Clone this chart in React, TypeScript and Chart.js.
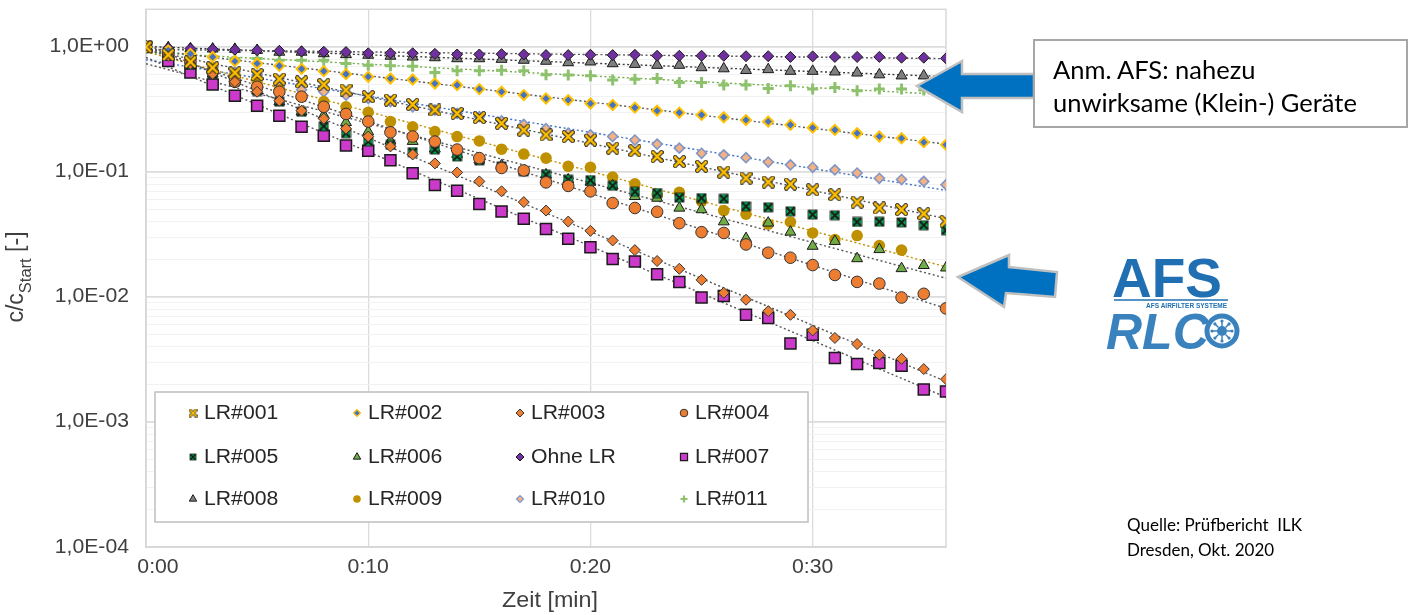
import React, { useEffect, useRef } from 'react';
import { Chart, registerables } from 'chart.js';
import { drawPoint } from 'chart.js/helpers';

Chart.register(...registerables);

// ---------- data ----------
const minutes = [0, 1, 2, 3, 4, 5, 6, 7, 8, 9, 10, 11, 12, 13, 14, 15, 16, 17, 18, 19, 20, 21, 22, 23, 24, 25, 26, 27, 28, 29, 30, 31, 32, 33, 34, 35, 36];

const lr001 = [1.0, 0.864, 0.759, 0.68, 0.621, 0.601, 0.553, 0.526, 0.5, 0.452, 0.4, 0.376, 0.347, 0.313, 0.294, 0.272, 0.245, 0.216, 0.198, 0.192, 0.18, 0.155, 0.148, 0.133, 0.121, 0.111, 0.0996, 0.0893, 0.083, 0.08, 0.072, 0.0658, 0.0574, 0.0515, 0.05, 0.0464, 0.0403];
const lr002 = [1.0, 0.938, 0.88, 0.832, 0.769, 0.736, 0.706, 0.668, 0.64, 0.606, 0.577, 0.559, 0.549, 0.51, 0.495, 0.46, 0.438, 0.412, 0.387, 0.376, 0.353, 0.343, 0.327, 0.309, 0.298, 0.286, 0.274, 0.26, 0.253, 0.238, 0.226, 0.217, 0.204, 0.192, 0.186, 0.173, 0.165];
const lr003 = [1.0, 0.848, 0.732, 0.609, 0.526, 0.438, 0.371, 0.309, 0.267, 0.222, 0.192, 0.16, 0.138, 0.117, 0.099, 0.084, 0.07, 0.0574, 0.0491, 0.0401, 0.0338, 0.0283, 0.0237, 0.0194, 0.0168, 0.0137, 0.0108, 0.0095, 0.0077, 0.0072, 0.0054, 0.0047, 0.0042, 0.00345, 0.0032, 0.00265, 0.0022];
const lr004 = [1.0, 0.88, 0.759, 0.632, 0.526, 0.48, 0.438, 0.4, 0.332, 0.291, 0.253, 0.2075, 0.192, 0.175, 0.151, 0.129, 0.1076, 0.1028, 0.0825, 0.0773, 0.07, 0.0564, 0.0515, 0.048, 0.0389, 0.033, 0.0325, 0.0263, 0.0226, 0.0206, 0.018, 0.015, 0.0132, 0.0128, 0.0099, 0.0106, 0.0081];
const lr005 = [1.0, 0.848, 0.719, 0.609, 0.526, 0.444, 0.365, 0.303, 0.2325, 0.204, 0.175, 0.165, 0.144, 0.151, 0.133, 0.1235, 0.1106, 0.1009, 0.095, 0.0867, 0.086, 0.0776, 0.0695, 0.0678, 0.0623, 0.0618, 0.061, 0.0531, 0.0521, 0.0484, 0.0456, 0.045, 0.0398, 0.04, 0.0395, 0.0375, 0.0342];
const lr006 = [1.0, 0.832, 0.706, 0.609, 0.526, 0.446, 0.365, 0.303, 0.2855, 0.249, 0.21, 0.1773, 0.176, 0.153, 0.1386, 0.125, 0.1127, 0.1019, 0.095, 0.0867, 0.083, 0.0778, 0.0638, 0.0618, 0.0515, 0.05, 0.04, 0.0294, 0.0391, 0.0331, 0.0255, 0.0279, 0.0203, 0.024, 0.0169, 0.0179, 0.0171];
const ohneLR = [1.0, 0.98, 0.97, 0.96, 0.95, 0.94, 0.93, 0.92, 0.915, 0.91, 0.89, 0.89, 0.89, 0.88, 0.87, 0.87, 0.875, 0.87, 0.86, 0.86, 0.865, 0.86, 0.865, 0.85, 0.85, 0.85, 0.85, 0.843, 0.843, 0.832, 0.84, 0.832, 0.832, 0.832, 0.82, 0.82, 0.81];
const lr007 = [1.0, 0.773, 0.624, 0.5, 0.407, 0.339, 0.282, 0.23, 0.195, 0.163, 0.148, 0.124, 0.0978, 0.0785, 0.0708, 0.0554, 0.0482, 0.0422, 0.035, 0.0292, 0.025, 0.0201, 0.0192, 0.0152, 0.0132, 0.0099, 0.0102, 0.0072, 0.0068, 0.00425, 0.00498, 0.00325, 0.00291, 0.00296, 0.00282, 0.00182, 0.00175];
const lr008 = [1.0, 0.99, 0.97, 0.965, 0.96, 0.94, 0.91, 0.91, 0.885, 0.87, 0.86, 0.845, 0.832, 0.822, 0.807, 0.807, 0.798, 0.784, 0.77, 0.75, 0.76, 0.736, 0.727, 0.715, 0.715, 0.684, 0.67, 0.65, 0.66, 0.64, 0.64, 0.632, 0.62, 0.6, 0.588, 0.588, 0.575];
const lr009 = [1.0, 0.896, 0.788, 0.68, 0.598, 0.526, 0.454, 0.4, 0.365, 0.332, 0.3, 0.253, 0.23, 0.21, 0.192, 0.177, 0.152, 0.139, 0.129, 0.111, 0.109, 0.091, 0.0805, 0.0658, 0.0687, 0.0582, 0.0491, 0.0459, 0.0382, 0.0398, 0.0325, 0.0288, 0.031, 0.0258, 0.0237];
const lr010 = [1.0, 0.864, 0.736, 0.693, 0.632, 0.595, 0.48, 0.454, 0.438, 0.412, 0.3875, 0.365, 0.332, 0.313, 0.294, 0.277, 0.256, 0.24, 0.222, 0.204, 0.198, 0.192, 0.18, 0.167, 0.155, 0.141, 0.137, 0.13, 0.12, 0.114, 0.109, 0.104, 0.098, 0.089, 0.087, 0.084, 0.079];
const lr011 = [1.0, 0.91, 0.91, 0.832, 0.807, 0.807, 0.784, 0.784, 0.784, 0.737, 0.715, 0.706, 0.7, 0.624, 0.644, 0.644, 0.652, 0.644, 0.6, 0.595, 0.588, 0.543, 0.552, 0.56, 0.52, 0.52, 0.495, 0.495, 0.466, 0.489, 0.46, 0.474, 0.446, 0.46, 0.46, 0.453, 0.44];

const seriesNames = ['LR#001', 'LR#002', 'LR#003', 'LR#004', 'LR#005', 'LR#006', 'Ohne LR', 'LR#007', 'LR#008', 'LR#009', 'LR#010', 'LR#011'];
const seriesValues = [lr001, lr002, lr003, lr004, lr005, lr006, ohneLR, lr007, lr008, lr009, lr010, lr011];
const seriesHasTrend = [true, true, true, true, false, true, true, true, true, true, true, true];

const xTickValues = [0, 10, 20, 30];
const xTickLabels = ['0:00', '0:10', '0:20', '0:30'];
const yTickValues = [1e-4, 1e-3, 1e-2, 1e-1, 1];
const yTickLabels = ['1,0E-04', '1,0E-03', '1,0E-02', '1,0E-01', '1,0E+00'];
const xTitle = 'Zeit [min]';
const yTitleMain = 'c/c';
const yTitleSub = 'Start';
const yTitleTail = ' [-]';

// ---------- styles ----------
type MS = { style: string; r: number; bg: string; bd: string; bw: number; trend: string; lr: number };
const markerStyles: MS[] = [
  { style: 'xgold', r: 6.5, bg: '#FFC000', bd: '#262626', bw: 1, trend: '#595959', lr: 4 },
  { style: 'rectRot', r: 5, bg: '#4472C4', bd: '#FFC000', bw: 2, trend: '#595959', lr: 3.5 },
  { style: 'rectRot', r: 5.5, bg: '#ED7D31', bd: '#333333', bw: 1, trend: '#595959', lr: 4 },
  { style: 'circle', r: 5.8, bg: '#ED7D31', bd: '#333333', bw: 1, trend: '#595959', lr: 3.8 },
  { style: 'bowtie', r: 5.5, bg: '#00B050', bd: '#1A1A1A', bw: 1, trend: '#595959', lr: 4 },
  { style: 'triangle', r: 6.3, bg: '#70AD47', bd: '#1A1A1A', bw: 1, trend: '#595959', lr: 4.3 },
  { style: 'rectRot', r: 5.5, bg: '#7030A0', bd: '#1A1A1A', bw: 1, trend: '#595959', lr: 4 },
  { style: 'rect', r: 7.8, bg: '#CC3ACC', bd: '#1A1A1A', bw: 1.5, trend: '#595959', lr: 5 },
  { style: 'triangle', r: 6.3, bg: '#7F7F7F', bd: '#1A1A1A', bw: 1, trend: '#3A3A3A', lr: 4.3 },
  { style: 'circle', r: 5.8, bg: '#BF9000', bd: '#BF9000', bw: 0, trend: '#BF9000', lr: 3.8 },
  { style: 'rectRot', r: 5, bg: '#F4B183', bd: '#7F96C8', bw: 1.6, trend: '#4472C4', lr: 3.5 },
  { style: 'cross', r: 5.5, bg: '#8DC16C', bd: '#8DC16C', bw: 3, trend: '#70AD47', lr: 3.5 },
];

const LABEL_FONT = '"Liberation Sans", Arial, sans-serif';
const STRETCH = 1.06;

function makeXMarker(size: number) {
  const c = document.createElement('canvas');
  c.width = size; c.height = size;
  const g = c.getContext('2d')!;
  const p = size * 0.18, q = size - p;
  const line = (w: number, col: string) => {
    g.strokeStyle = col; g.lineWidth = w; g.lineCap = 'square';
    g.beginPath(); g.moveTo(p, p); g.lineTo(q, q); g.moveTo(q, p); g.lineTo(p, q); g.stroke();
  };
  line(size * 0.34, '#262626');
  line(size * 0.2, '#FFC000');
  return c;
}

function makeBowtie(size: number) {
  const c = document.createElement('canvas');
  c.width = size; c.height = size;
  const g = c.getContext('2d')!;
  g.fillStyle = '#00B050';
  g.fillRect(1, 1, size - 2, size - 2);
  g.strokeStyle = '#1A1A1A';
  g.lineWidth = size * 0.18;
  g.beginPath(); g.moveTo(1.5, 1.5); g.lineTo(size - 1.5, size - 1.5); g.moveTo(size - 1.5, 1.5); g.lineTo(1.5, size - 1.5); g.stroke();
  g.lineWidth = 0.8;
  g.strokeRect(1, 1, size - 2, size - 2);
  return c;
}

function expFit(xs: number[], ys: number[]) {
  let n = 0, sx = 0, sy = 0, sxx = 0, sxy = 0;
  for (let i = 0; i < ys.length; i++) {
    const x = xs[i], y = Math.log(ys[i]);
    n++; sx += x; sy += y; sxx += x * x; sxy += x * y;
  }
  const b = (n * sxy - sx * sy) / (n * sxx - sx * sx);
  const a = (sy - b * sx) / n;
  return { a, b };
}

function isDecade(v: number) {
  const l = Math.log10(v);
  return Math.abs(l - Math.round(l)) < 1e-6;
}

function stretchedText(ctx: CanvasRenderingContext2D, text: string, x: number, y: number, font: string, align: CanvasTextAlign, color: string) {
  ctx.save();
  ctx.translate(x, y);
  ctx.scale(STRETCH, 1);
  ctx.font = font;
  ctx.fillStyle = color;
  ctx.textAlign = align;
  ctx.textBaseline = 'middle';
  ctx.fillText(text, 0, 0);
  ctx.restore();
}

export default function App() {
  const ref = useRef<HTMLCanvasElement>(null);

  useEffect(() => {
    const canvas = ref.current;
    if (!canvas) return;

    const bigX = makeXMarker(13);
    const smallX = makeXMarker(9);
    const bigBow = makeBowtie(11);
    const smallBow = makeBowtie(8);
    const resolveStyle = (s: string, small: boolean): any => {
      if (s === 'xgold') return small ? smallX : bigX;
      if (s === 'bowtie') return small ? smallBow : bigBow;
      return s;
    };

    const markerSets: any[] = [];
    const trendSets: any[] = [];
    seriesValues.forEach((vals, i) => {
      const st = markerStyles[i];
      const xs = minutes.slice(0, vals.length);
      const pts = vals.map((v, k) => ({ x: minutes[k], y: v }));
      markerSets.push({
        type: 'scatter',
        label: seriesNames[i],
        data: pts,
        showLine: false,
        pointStyle: resolveStyle(st.style, false),
        pointRadius: st.r,
        pointHoverRadius: st.r,
        pointBackgroundColor: st.bg,
        pointBorderColor: st.bd,
        pointBorderWidth: st.bw,
        order: i,
      });
      if (seriesHasTrend[i]) {
        const { a, b } = expFit(xs, vals);
        const tEnd = minutes[minutes.length - 1];
        trendSets.push({
          type: 'line',
          label: seriesNames[i] + ' trend',
          data: [{ x: minutes[0], y: Math.exp(a) }, { x: tEnd, y: Math.exp(a + b * tEnd) }],
          borderColor: st.trend,
          borderWidth: 1.4,
          borderDash: [2, 2.5],
          pointRadius: 0,
          fill: false,
          tension: 0,
          order: 20 + i,
        });
      }
    });

    const decor = {
      id: 'decor',
      beforeDatasetsDraw(chart: any) {
        const { ctx, chartArea: a } = chart;
        ctx.save();
        ctx.strokeStyle = '#D9D9D9';
        ctx.lineWidth = 1.5;
        ctx.strokeRect(a.left, a.top, a.right - a.left, a.bottom - a.top);
        ctx.restore();
      },
      afterDraw(chart: any) {
        const { ctx, chartArea: a } = chart;
        const xs = chart.scales.x, ys = chart.scales.y;
        const tickFont = `20px ${LABEL_FONT}`;
        const tickColor = '#404040';
        yTickValues.forEach((v, i) => {
          stretchedText(ctx, yTickLabels[i], a.left - 17, ys.getPixelForValue(v), tickFont, 'right', tickColor);
        });
        xTickValues.forEach((v, i) => {
          let px = xs.getPixelForValue(v);
          if (i === 0) px = Math.max(px, a.left + 12);
          stretchedText(ctx, xTickLabels[i], px, 567, tickFont, 'center', tickColor);
        });
        stretchedText(ctx, xTitle, (a.left + a.right) / 2 + 4, 601, `22px ${LABEL_FONT}`, 'center', tickColor);

        // y title with subscript
        ctx.save();
        ctx.translate(23, 277);
        ctx.rotate(-Math.PI / 2);
        const f1 = `23px ${LABEL_FONT}`, f2 = `16.5px ${LABEL_FONT}`;
        ctx.font = f1; const w1 = ctx.measureText(yTitleMain).width; const w3 = ctx.measureText(yTitleTail).width;
        ctx.font = f2; const w2 = ctx.measureText(yTitleSub).width;
        const x0 = -(w1 + w2 + w3) / 2;
        ctx.fillStyle = tickColor;
        ctx.textBaseline = 'alphabetic';
        ctx.textAlign = 'left';
        ctx.font = f1; ctx.fillText(yTitleMain, x0, 0);
        ctx.font = f2; ctx.fillText(yTitleSub, x0 + w1, 8);
        ctx.font = f1; ctx.fillText(yTitleTail, x0 + w1 + w2, 0);
        ctx.restore();

        // legend
        ctx.save();
        ctx.fillStyle = '#FFFFFF';
        ctx.strokeStyle = '#BFBFBF';
        ctx.lineWidth = 1.5;
        ctx.fillRect(155, 392, 653, 130);
        ctx.strokeRect(155, 392, 653, 130);
        ctx.restore();
        const colX = [193, 357, 520, 684];
        const rowY = [413, 457, 499];
        seriesNames.forEach((name, i) => {
          const st = markerStyles[i];
          const cx = colX[i % 4], cy = rowY[Math.floor(i / 4)];
          const lw = st.style === 'cross' ? 2.2 : Math.min(st.bw, 1.2);
          ctx.save();
          ctx.fillStyle = st.bg;
          ctx.strokeStyle = st.bd;
          ctx.lineWidth = lw;
          drawPoint(ctx, { pointStyle: resolveStyle(st.style, true), radius: st.lr, rotation: 0, borderWidth: lw } as any, cx, cy);
          ctx.restore();
          stretchedText(ctx, name, cx + 11, cy, `20px ${LABEL_FONT}`, 'left', '#262626');
        });
      },
    };

    const chart = new Chart(canvas, {
      type: 'scatter',
      data: { datasets: [...markerSets, ...trendSets] },
      options: {
        animation: false,
        responsive: false,
        maintainAspectRatio: false,
        layout: { padding: { top: 8, right: 1413 - 946, left: 0, bottom: 0 } },
        plugins: { legend: { display: false }, tooltip: { enabled: false } },
        scales: {
          x: {
            type: 'linear',
            min: 0,
            max: 36,
            afterBuildTicks: (s: any) => { s.ticks = xTickValues.map((v) => ({ value: v })); },
            afterFit: (s: any) => { s.height = 68; },
            ticks: { display: false },
            grid: { color: '#DCDCDC', lineWidth: 1.3, drawTicks: false },
            border: { color: '#D0D0D0', width: 1.5 },
          },
          y: {
            type: 'logarithmic',
            min: 1e-4,
            max: 2,
            afterBuildTicks: (s: any) => {
              const t: any[] = [];
              for (let e = -4; e <= 0; e++) {
                for (let k = 1; k <= 9; k++) {
                  const v = k * Math.pow(10, e);
                  if (v <= 2.0001) t.push({ value: v });
                }
              }
              s.ticks = t;
            },
            afterFit: (s: any) => { s.width = 146; },
            ticks: { display: false },
            grid: {
              color: (c: any) => (c.tick && isDecade(c.tick.value) ? '#DCDCDC' : '#F2F2F2'),
              lineWidth: (c: any) => (c.tick && isDecade(c.tick.value) ? 1.8 : 1),
              drawTicks: false,
            },
            border: { color: '#D0D0D0', width: 1.5 },
          },
        },
      } as any,
      plugins: [decor as any],
    });
    return () => chart.destroy();
  }, []);

  const blue = '#0070C0';
  const logoBlue = '#1F6FB2';
  const logoBlue2 = '#3A82BE';
  const spikes = [0, 45, 90, 135, 180, 225, 270, 315];

  return (
    <div style={{ position: 'absolute', left: 0, top: 0, width: 1413, height: 615, background: '#FFFFFF', overflow: 'hidden' }}>
      <canvas ref={ref} width={1413} height={615} style={{ position: 'absolute', left: 0, top: 0 }} />
      <svg width={1413} height={615} style={{ position: 'absolute', left: 0, top: 0, pointerEvents: 'none' }}>
        <polygon points="917,86 962,61 962,74 1034,74 1034,98 962,98 962,112" fill={blue} stroke="#BFBFBF" strokeWidth={2.5} strokeLinejoin="miter" />
        <polygon points="958,277 1009,255 1009,267 1057,272 1055,297 1006,293 1004,307" fill={blue} stroke="#BFBFBF" strokeWidth={2.5} />
        <rect x={1034} y={40} width={373} height={87} fill="#FFFFFF" stroke="#A6A6A6" strokeWidth={2} />
        <text x={1053} y={79} fontFamily="Lato, 'Open Sans', sans-serif" fontSize={25.5} fill="#000000">Anm. AFS: nahezu</text>
        <text x={1053} y={112} fontFamily="Lato, 'Open Sans', sans-serif" fontSize={25.5} fill="#000000">unwirksame (Klein-) Geräte</text>

        <text x={1112} y={297} fontFamily="'Liberation Sans', Arial, sans-serif" fontWeight="bold" fontSize={55} fill={logoBlue}>AFS</text>
        <line x1={1114} y1={300} x2={1228} y2={300} stroke={logoBlue} strokeWidth={1.5} />
        <text x={1227} y={307.5} textAnchor="end" fontFamily="'Liberation Sans', Arial, sans-serif" fontWeight="bold" fontSize={6.5} fill={logoBlue}>AFS AIRFILTER SYSTEME</text>
        <text x={1106} y={349} fontFamily="'Liberation Sans', Arial, sans-serif" fontWeight="bold" fontStyle="italic" fontSize={50} fill={logoBlue2}>RLC</text>
        <circle cx={1222} cy={331} r={15} fill="#FFFFFF" stroke={logoBlue2} strokeWidth={5} />
        <circle cx={1222} cy={331} r={5} fill={logoBlue2} />
        {spikes.map((d) => {
          const r = (d * Math.PI) / 180;
          return (
            <g key={d}>
              <line x1={1222 + Math.cos(r) * 5} y1={331 + Math.sin(r) * 5} x2={1222 + Math.cos(r) * 9.5} y2={331 + Math.sin(r) * 9.5} stroke={logoBlue2} strokeWidth={1.5} />
              <circle cx={1222 + Math.cos(r) * 10} cy={331 + Math.sin(r) * 10} r={1.6} fill={logoBlue2} />
            </g>
          );
        })}

        <text x={1127} y={531} fontFamily="Lato, 'Open Sans', sans-serif" fontSize={17} fill="#000000" style={{ whiteSpace: 'pre' }}>Quelle: Prüfbericht  ILK</text>
        <text x={1127} y={556} fontFamily="Lato, 'Open Sans', sans-serif" fontSize={17} fill="#000000">Dresden, Okt. 2020</text>
      </svg>
    </div>
  );
}
